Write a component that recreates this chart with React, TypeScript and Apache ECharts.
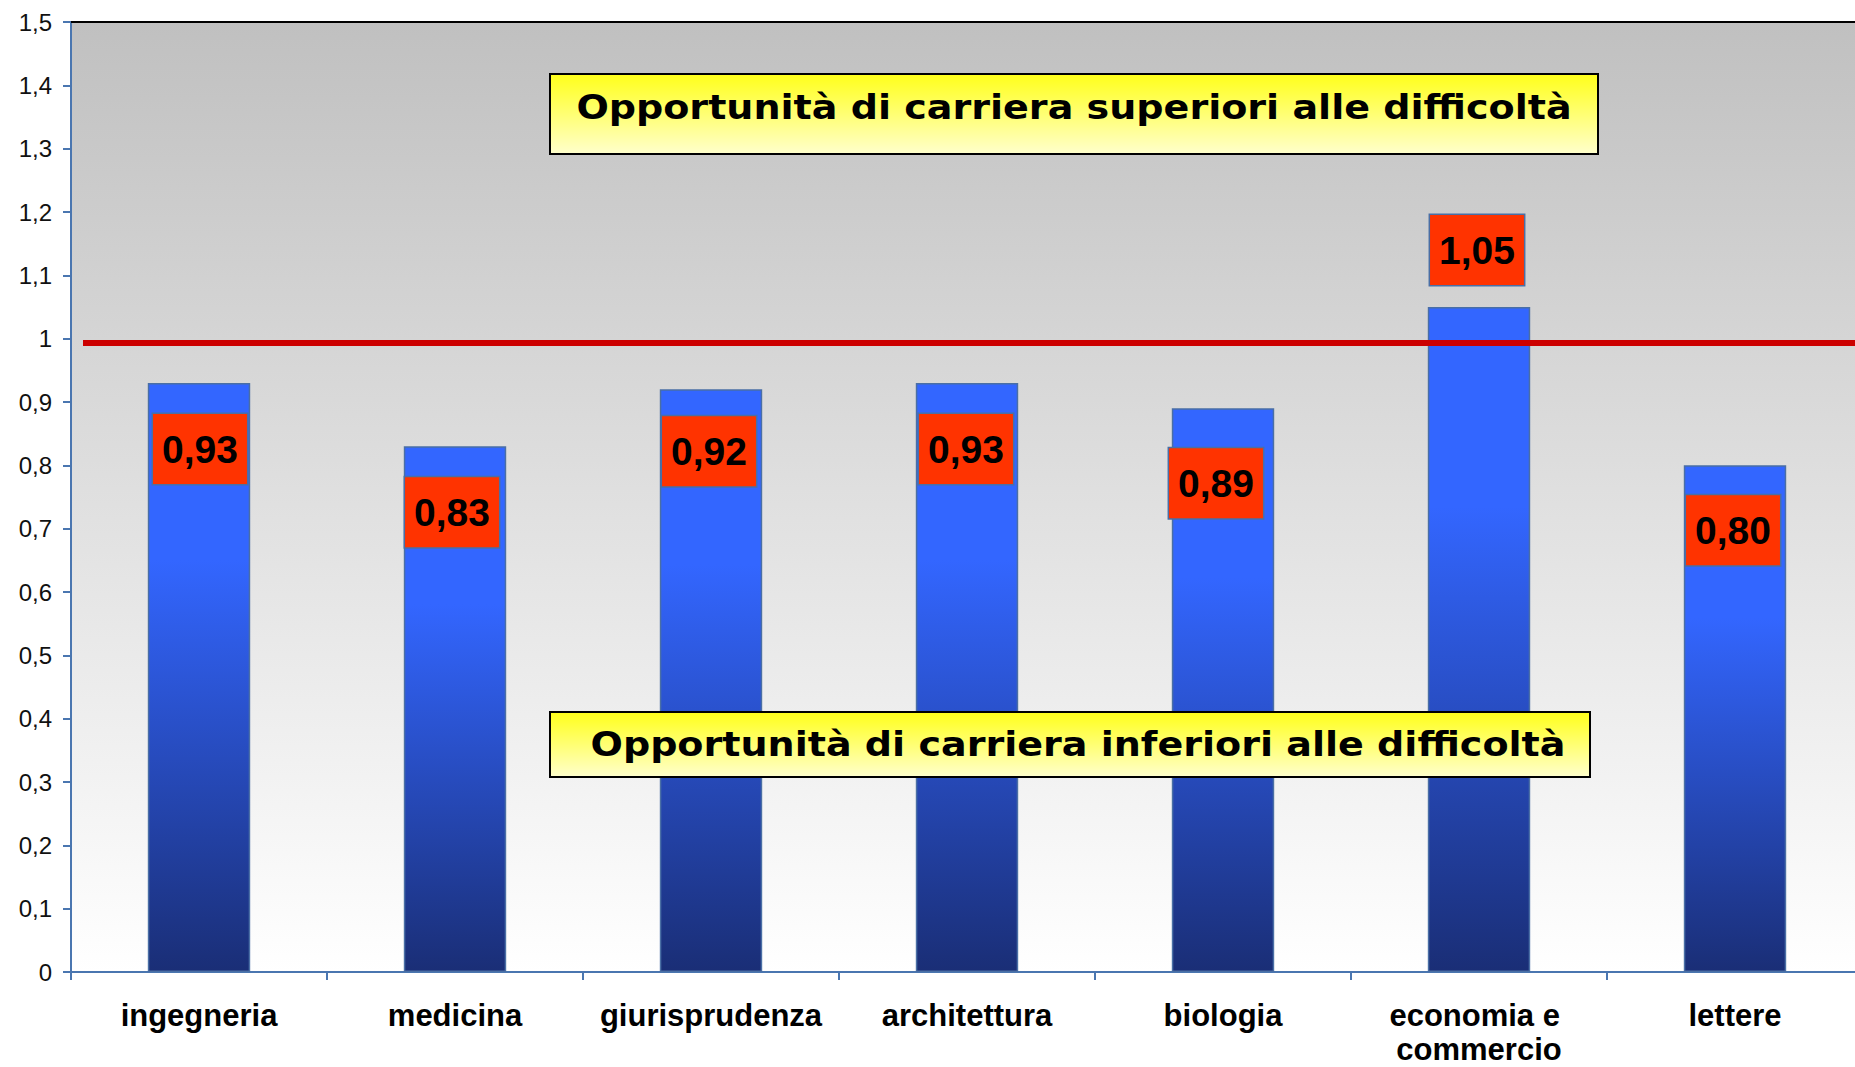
import React, { useEffect, useRef } from "react";
import * as echarts from "echarts";

// ---- data ----
const categories = [
  "ingegneria",
  "medicina",
  "giurisprudenza",
  "architettura",
  "biologia",
  "economia e commercio",
  "lettere",
];
const values = [0.93, 0.83, 0.92, 0.93, 0.89, 1.05, 0.8];
const parityValue = 0.993;
const yMin = 0;
const yMax = 1.5;
const yStep = 0.1;
const noteAbove = "Opportunità di carriera superiori alle difficoltà";
const noteBelow = "Opportunità di carriera inferiori alle difficoltà";

// label placement (style only)
const labelPlacement = [
  { position: "insideTop", distance: 31, offset: [1, 0] },
  { position: "insideTop", distance: 31, offset: [-3, 0] },
  { position: "insideTop", distance: 27, offset: [-2, 0] },
  { position: "insideTop", distance: 31, offset: [-1, 0] },
  { position: "insideTop", distance: 40, offset: [-7, 0] },
  { position: "top", distance: 22, offset: [-2, 0] },
  { position: "insideTop", distance: 30, offset: [-2, 0] },
];

const fmtComma = (v: number, digits?: number) =>
  (digits === undefined ? String(Math.round(v * 10) / 10) : v.toFixed(digits)).replace(".", ",");

export default function App() {
  const ref = useRef<HTMLDivElement>(null);

  useEffect(() => {
    if (!ref.current) return;
    const chart = echarts.init(ref.current, undefined, { renderer: "svg" });

    const barColor = new echarts.graphic.LinearGradient(0, 0, 0, 1, [
      { offset: 0, color: "#3366ff" },
      { offset: 0.3, color: "#3366ff" },
      { offset: 1, color: "#1a2e76" },
    ]);

    const noteFill = () =>
      new echarts.graphic.LinearGradient(0, 0, 0, 1, [
        { offset: 0, color: "#ffff1a" },
        { offset: 1, color: "#ffffcc" },
      ]);

    const note = (left: number, top: number, w: number, h: number, tx: number, ty: number, text: string) => ({
      type: "group",
      left,
      top,
      children: [
        {
          type: "rect",
          z: 100,
          shape: { x: 0, y: 0, width: w, height: h },
          style: { fill: noteFill(), stroke: "#000", lineWidth: 2 },
        },
        {
          type: "text",
          z: 101,
          x: tx,
          y: ty,
          scaleX: 1.12,
          style: {
            text,
            align: "center",
            verticalAlign: "middle",
            fontFamily: "DejaVu Sans, Verdana, sans-serif",
            fontWeight: "bold",
            fontSize: 34,
            fill: "#000",
          },
        },
      ],
    });

    const option: any = {
      animation: false,
      grid: {
        left: 71,
        top: 22,
        right: -8,
        bottom: 95,
        containLabel: false,
        outerBoundsMode: "none",
        show: true,
        borderWidth: 0,
        backgroundColor: new echarts.graphic.LinearGradient(0, 0, 0, 1, [
          { offset: 0, color: "#c0c0c0" },
          { offset: 1, color: "#ffffff" },
        ]),
      },
      xAxis: [
        {
          type: "category",
          data: categories,
          boundaryGap: true,
          axisLine: { lineStyle: { color: "#4a76b0", width: 2 } },
          axisTick: { show: true, length: 8, inside: false, lineStyle: { color: "#4a76b0", width: 2 } },
          axisLabel: {
            margin: 26,
            color: "#000",
            fontFamily: "Liberation Sans, Arial, sans-serif",
            fontWeight: "bold",
            fontSize: 31,
            lineHeight: 34,
            width: 250,
            overflow: "break",
            interval: 0,
          },
        },
        {
          type: "category",
          data: categories,
          position: "top",
          axisLine: { lineStyle: { color: "#000", width: 2 } },
          axisTick: { show: false },
          axisLabel: { show: false },
        },
      ],
      yAxis: {
        type: "value",
        min: yMin,
        max: yMax,
        interval: yStep,
        splitLine: { show: false },
        axisLine: { show: true, lineStyle: { color: "#4a76b0", width: 2 } },
        axisTick: { show: true, length: 8, inside: false, lineStyle: { color: "#4a76b0", width: 2 } },
        axisLabel: {
          margin: 19,
          color: "#111",
          fontFamily: "Liberation Sans, Arial, sans-serif",
          fontSize: 24,
          formatter: (v: number) => fmtComma(v),
        },
      },
      series: [
        {
          type: "bar",
          barWidth: "40%",
          z: 2,
          data: values.map((v, i) => ({
            value: v,
            label: {
              position: labelPlacement[i].position,
              distance: labelPlacement[i].distance,
              offset: labelPlacement[i].offset,
            },
          })),
          itemStyle: { color: barColor, borderColor: "#4a6fa5", borderWidth: 1.5 },
          label: {
            show: true,
            formatter: (p: any) => fmtComma(p.value, 2),
            color: "#000",
            fontFamily: "Liberation Sans, Arial, sans-serif",
            fontWeight: "bold",
            fontSize: 39,
            lineHeight: 42,
            backgroundColor: "#ff3300",
            borderColor: "#4a6fa5",
            borderWidth: 1.5,
            padding: [14, 9],
          },
          markLine: {
            silent: true,
            symbol: ["none", "none"],
            label: { show: false },
            lineStyle: { color: "#cc0000", width: 6, type: "solid" },
            data: [[{ x: 83, yAxis: parityValue }, { x: 1855, yAxis: parityValue }]],
          },
        },
      ],
      graphic: [
        note(549, 73, 1048, 80, 524, 34, noteAbove),
        note(549, 711, 1040, 65, 528, 33, noteBelow),
      ],
    };

    chart.setOption(option);
    return () => chart.dispose();
  }, []);

  return (
    <div
      ref={ref}
      style={{ position: "fixed", left: 0, top: 0, width: 1855, height: 1067, background: "#fff" }}
    />
  );
}
